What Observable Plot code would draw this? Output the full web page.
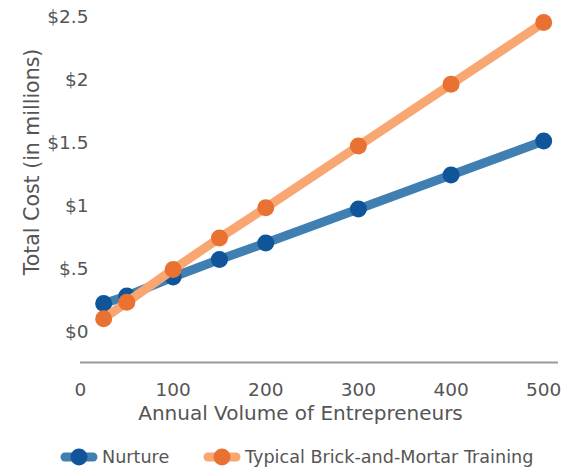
<!DOCTYPE html>
<html>
<head>
<meta charset="utf-8">
<script src="https://cdn.jsdelivr.net/npm/d3@7"></script>
<script src="https://cdn.jsdelivr.net/npm/@observablehq/plot@0.6"></script>
<style>
  html, body { margin: 0; padding: 0; background: #fff; }
  #wrap { position: relative; width: 578px; height: 470px; font-family: "DejaVu Sans", sans-serif; color: #555; }
  #legend { position: absolute; left: 0; top: 446px; width: 578px; height: 22px; font-size: 17.6px; }
  .item { position: absolute; top: 0; display: flex; align-items: center; height: 22px; white-space: nowrap; }
  .item svg { margin-right: 4px; }
</style>
</head>
<body>
<div id="wrap">
  <div id="chart"></div>
  <div id="legend"></div>
</div>
<script>
const volumes = [25, 50, 100, 150, 200, 300, 400, 500];
const nurture = [0.23, 0.29, 0.44, 0.58, 0.71, 0.98, 1.25, 1.52];
const brick = [0.11, 0.24, 0.50, 0.75, 0.99, 1.48, 1.97, 2.46];
const seriesNames = ["Nurture", "Typical Brick-and-Mortar Training"];
const lineColors = ["#3f7fb2", "#f9a772"];
const dotColors = ["#10559a", "#e97131"];
const xTicks = [0, 100, 200, 300, 400, 500];
const yTicks = [0, 0.5, 1, 1.5, 2, 2.5];
const yTickLabels = ["$0", "$.5", "$1", "$1.5", "$2", "$2.5"];

const nData = volumes.map((v, i) => ({x: v, y: nurture[i]}));
const bData = volumes.map((v, i) => ({x: v, y: brick[i]}));

const chart = Plot.plot({
  width: 578,
  height: 430,
  marginLeft: 80,
  marginRight: 20,
  marginTop: 17,
  marginBottom: 68,
  style: {fontFamily: "DejaVu Sans, sans-serif", fontSize: "18px", color: "#555", background: "#fff"},
  x: {domain: [0, 516]},
  y: {domain: [-0.238, 2.5]},
  marks: [
    Plot.axisY({ticks: yTicks, tickFormat: (d) => yTickLabels[yTicks.indexOf(d)], tickSize: 0, tickPadding: 0, dx: 8, fontSize: 18.5, fill: "#555", label: null}),
    Plot.axisX({ticks: xTicks, tickSize: 0, tickPadding: 20, fontSize: 18.5, fill: "#555", label: null}),
    Plot.ruleY([-0.238], {stroke: "#999", strokeWidth: 2}),
    Plot.text(["Total Cost (in millions)"], {frameAnchor: "left", textAnchor: "middle", dx: -48, dy: -28, rotate: -90, fontSize: 20.5, fill: "#555"}),
    Plot.text(["Annual Volume of Entrepreneurs"], {frameAnchor: "bottom", dx: -19, dy: 57, fontSize: 20, fill: "#555"}),
    Plot.line(nData, {x: "x", y: "y", stroke: lineColors[0], strokeWidth: 9}),
    Plot.dot(nData, {x: "x", y: "y", r: 8.5, fill: dotColors[0]}),
    Plot.line(bData, {x: "x", y: "y", stroke: lineColors[1], strokeWidth: 9}),
    Plot.dot(bData, {x: "x", y: "y", r: 8.5, fill: dotColors[1]})
  ]
});
document.getElementById("chart").appendChild(chart);

const legend = document.getElementById("legend");
const lefts = [60, 203];
seriesNames.forEach((name, i) => {
  const item = document.createElement("div");
  item.className = "item";
  item.style.left = lefts[i] + "px";
  item.innerHTML = `<svg width="38" height="20"><line x1="5" y1="10" x2="33" y2="10" stroke="${lineColors[i]}" stroke-width="9" stroke-linecap="round"/><circle cx="19" cy="10" r="8.5" fill="${dotColors[i]}"/></svg><span>${name}</span>`;
  legend.appendChild(item);
});
</script>
</body>
</html>
